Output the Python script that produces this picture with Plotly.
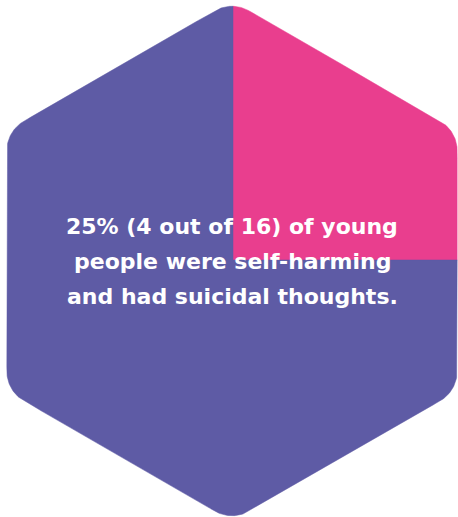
import numpy as np
import plotly.graph_objects as go

# ---- data ----
labels = ["Self-harming and had suicidal thoughts", "Other young people"]
values = [4, 12]
colors = ["#E93E8E", "#5E5BA5"]
caption_lines = ["25% (4 out of 16) of young",
                 "people were self-harming",
                 "and had suicidal thoughts."]

# ---- geometry (layout constants, pixel space) ----
W, H = 458, 517
HX, HY = 232.0, 261.0        # hexagon centre
PX, PY = 233.0, 260.0        # pie centre
R = 260.0
CORNER = 34.0


def rounded_hexagon(cx, cy, r, rc, n=30):
    xs, ys = [], []
    d = rc / np.sin(np.radians(60))
    for k in range(6):
        a = np.radians(-90 + 60 * k)
        vx, vy = cx + r * np.cos(a), cy + r * np.sin(a)
        ccx, ccy = vx - d * np.cos(a), vy - d * np.sin(a)
        phis = np.linspace(a - np.radians(30), a + np.radians(30), n)
        xs.extend(ccx + rc * np.cos(phis))
        ys.extend(ccy + rc * np.sin(phis))
    return np.array(xs), np.array(ys)


hx, hy = rounded_hexagon(HX, HY, R, CORNER)
ex0, ey0 = hx, hy
ex1, ey1 = np.roll(hx, -1), np.roll(hy, -1)


def boundary_radius(theta):
    dx, dy = np.cos(theta), np.sin(theta)
    sx, sy = ex1 - ex0, ey1 - ey0
    den = dx * sy - dy * sx
    with np.errstate(divide="ignore", invalid="ignore"):
        t = ((ex0 - PX) * sy - (ey0 - PY) * sx) / den
        s = ((ex0 - PX) * dy - (ey0 - PY) * dx) / den
    ok = (np.abs(den) > 1e-12) & (s >= -1e-9) & (s <= 1 + 1e-9) & (t > 0)
    return np.min(t[ok])


fig = go.Figure()
total = float(sum(values))
cum = 0.0
for lab, val, col in zip(labels, values, colors):
    start = -90 + 360 * cum / total
    end = -90 + 360 * (cum + val) / total
    cum += val
    thetas = np.radians(np.linspace(start, end, int(abs(end - start) * 4) + 2))
    rr = np.array([boundary_radius(t) for t in thetas])
    xs = np.concatenate([[PX], PX + rr * np.cos(thetas), [PX]])
    ys = np.concatenate([[PY], PY + rr * np.sin(thetas), [PY]])
    fig.add_trace(go.Scatter(x=xs, y=ys, mode="lines", fill="toself",
                             fillcolor=col, line=dict(color=col, width=0.5),
                             name=lab, hoverinfo="name", showlegend=False))

LINE_Y0, LINE_GAP = 226.0, 35.0
for i, line in enumerate(caption_lines):
    fig.add_annotation(x=HX, y=LINE_Y0 + i * LINE_GAP, xref="x", yref="y",
                       text=line, showarrow=False,
                       font=dict(family="DejaVu Sans", size=22, color="white",
                                 weight=700),
                       align="center", xanchor="center", yanchor="middle")

fig.update_layout(width=W, height=H, margin=dict(l=0, r=0, t=0, b=0),
                  paper_bgcolor="white", plot_bgcolor="white",
                  xaxis=dict(range=[0, W], visible=False, fixedrange=True),
                  yaxis=dict(range=[H, 0], visible=False, fixedrange=True))
fig.write_html("out.html", config={"displayModeBar": False},
               post_script="document.body.style.margin='0';")
